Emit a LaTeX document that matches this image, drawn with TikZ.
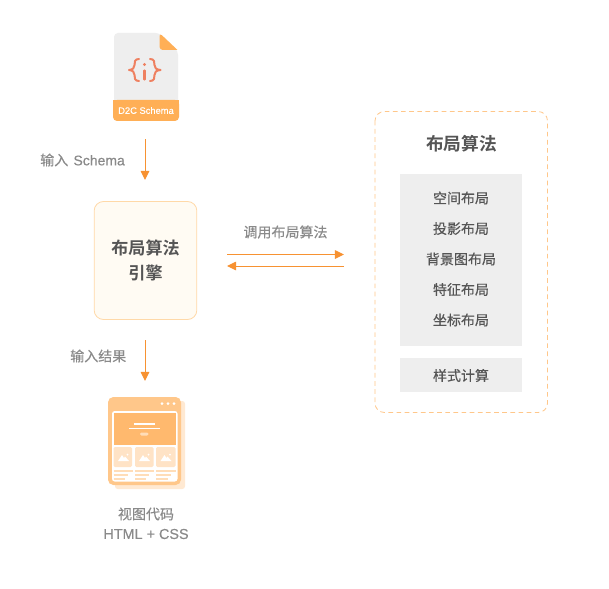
\documentclass[tikz,border=0pt]{standalone}
\usepackage{fontspec}
\usetikzlibrary{arrows.meta}
\setmainfont{Liberation Sans}[FakeBold=0.35]
\newfontfamily\cjk{Noto Sans CJK SC}[FakeBold=0.35]
\newfontfamily\cjkb{Noto Sans CJK SC Bold}
\definecolor{arrowc}{HTML}{F79232}
\definecolor{txtgray}{HTML}{8A8A8A}
\definecolor{txtdark}{HTML}{555555}
\definecolor{panelgray}{HTML}{EEEEEE}
\definecolor{orA}{HTML}{FFAF56}
\definecolor{orBlock}{HTML}{FFB96E}
\definecolor{orB}{HTML}{FFC78A}
\definecolor{orC}{HTML}{FFE9D2}
\definecolor{orD}{HTML}{FFDDB8}
\definecolor{orCell}{HTML}{FFE3C6}
\definecolor{boxedge}{HTML}{FFD9A8}
\definecolor{boxfill}{HTML}{FFFBF3}
\definecolor{iconred}{HTML}{EE8060}
\tikzset{
 x=0.75pt,y=-0.75pt,
 flow/.style={draw=arrowc,line width=0.75pt,-{Triangle[length=6.8pt,width=6.4pt]}},
 lab/.style={inner sep=0pt,text=txtgray,font=\fontsize{10.5pt}{13pt}\selectfont},
 cjklab/.style={inner sep=0pt,text=txtgray,font=\cjk\fontsize{10.5pt}{13pt}\selectfont},
 item/.style={inner sep=0pt,text=txtdark,font=\cjk\fontsize{10.5pt}{13pt}\selectfont},
 brace/.style={iconred,line width=1.5pt,line cap=round,line join=round},
 rowline/.style={orD,line width=0.8pt},
}
\begin{document}
\begin{tikzpicture}
\useasboundingbox (0,0) rectangle (609,588);
\fill[white] (0,0) rectangle (609,588);
% file icon
\fill[panelgray,rounded corners=3pt] (114,33) -- (159.5,33) -- (178,51) -- (178,110) -- (114,110) -- cycle;
\fill[orA] (159.5,33) -- (177.5,50) [rounded corners=2.5pt] -- (159.5,50) -- cycle;
\fill[orA,rounded corners=3pt] (113,100) rectangle (179,121);
\fill[orA] (113,100) rectangle (179,110);
\node[inner sep=0pt,text=white,font=\fontsize{7pt}{8pt}\selectfont] (schemaname) at (146,110.5) {D2C Schema};
\draw[brace] (139,59) .. controls (134.5,59) and (134.5,62) .. (134.5,65) .. controls (134.5,68) and (133,69.5) .. (129,70) .. controls (133,70.5) and (134.5,72) .. (134.5,75) .. controls (134.5,78) and (134.5,81) .. (139,81);
\draw[brace] (150,59) .. controls (154.5,59) and (154.5,62) .. (154.5,65) .. controls (154.5,68) and (156,69.5) .. (160.5,70) .. controls (156,70.5) and (154.5,72) .. (154.5,75) .. controls (154.5,78) and (154.5,81) .. (150,81);
\fill[iconred] (144.5,64.5) circle (1.7);
\draw[iconred,line width=1.6pt,line cap=round] (144.5,70.5) -- (144.5,79.5);
\coordinate (fileout) at (145,139);
\coordinate (enginein) at (145,180);
\draw[flow] (fileout) -- (enginein);
\node[lab,anchor=west] (l1) at (40,160) {{\cjk 输入}\hspace{1pt} Schema};
% engine
\node[draw=boxedge,fill=boxfill,rounded corners=7pt,line width=0.6pt,minimum width=77pt,minimum height=88.5pt,inner sep=0pt,
 font=\cjkb\fontsize{12.8pt}{18.5pt}\selectfont,text=txtdark,align=center] (engine) at (145.5,260.5) {布局算法\\引擎};
\coordinate (engout) at (145,340);
\coordinate (viewin) at (145,381);
\draw[flow] (engout) -- (viewin);
\node[cjklab,anchor=west] (l2) at (70,356) {输入结果};
% double arrows
\coordinate (a1) at (227,254.5);
\coordinate (a2) at (344,254.5);
\coordinate (b1) at (344,266);
\coordinate (b2) at (227,266);
\draw[flow] (a1) -- (a2);
\draw[flow] (b1) -- (b2);
\node[cjklab] (l3) at (285.5,232) {调用布局算法};
% right panel
\draw[draw=orB,dashed,dash pattern=on 3.5pt off 2.6pt,line width=0.6pt,rounded corners=7pt] (375,111.5) rectangle (547.5,412.5);
\node[inner sep=0pt,text=txtdark,font=\cjkb\fontsize{13.3pt}{15pt}\selectfont] (title) at (461.5,144) {布局算法};
\fill[panelgray] (400,174) rectangle (522,346);
\node[item] (i1) at (461,198) {空间布局};
\node[item] (i2) at (461,228.5) {投影布局};
\node[item] (i3) at (461,259) {背景图布局};
\node[item] (i4) at (461,289.5) {特征布局};
\node[item] (i5) at (461,320) {坐标布局};
\fill[panelgray] (400,358) rectangle (522,392);
\node[item] (i6) at (461,375.5) {样式计算};
% view icon
\fill[orC,rounded corners=2pt] (115,401) rectangle (185,489);
\fill[orB,rounded corners=4pt] (108,397) rectangle (181,485);
\fill[white,rounded corners=2pt] (112,411) rectangle (177.5,481.5);
\fill[orBlock] (113.5,413) rectangle (175.5,445);
\fill[orCell,rounded corners=1pt] (113.5,447) rectangle (132,467);
\fill[orCell,rounded corners=1pt] (135,447) rectangle (153.5,467);
\fill[orCell,rounded corners=1pt] (156,447) rectangle (175.5,467);
\foreach \x in {123,144,165.5}{
 \fill[white] (\x-5,461) -- (\x-1,455) -- (\x+1,458) -- (\x+2,456.5) -- (\x+6,461) -- cycle;
 \fill[white] (\x+4.5,454.5) circle (1);
}
\foreach \x in {162,168,174}{\fill[white] (\x,403.5) circle (1.5);}
\draw[white,line width=1.1pt] (134,424) -- (155,424);
\draw[white,line width=1.1pt] (129,428.5) -- (160,428.5);
\fill[orD,rounded corners=1pt] (140,432.5) rectangle (148.5,435.5);
\foreach \x/\w in {113.5/19,135/19,156/19.5}{
 \draw[rowline] (\x,471) -- (\x+\w,471);
 \draw[rowline] (\x,475) -- (\x+\w-5,475);
 \draw[rowline] (\x,479) -- (\x+\w-8,479);
}
% bottom label
\node[cjklab] (v1) at (146,514) {视图代码};
\node[lab,font=\fontsize{10.8pt}{13pt}\selectfont] (v2) at (146,534) {HTML + CSS};
\end{tikzpicture}
\end{document}
